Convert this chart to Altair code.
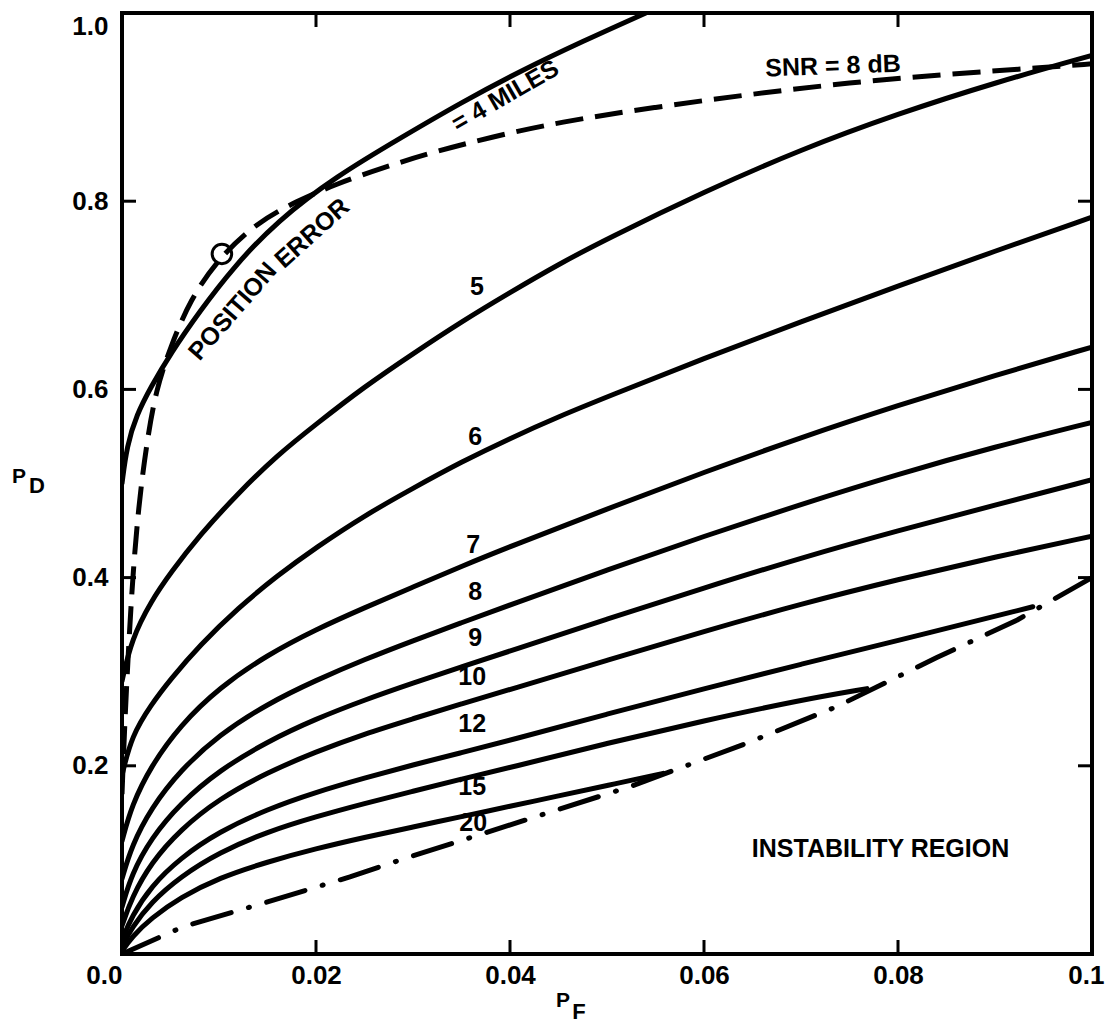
import altair as alt
import pandas as pd

# ---------------- data ----------------
x_tick_values = [0.0, 0.02, 0.04, 0.06, 0.08, 0.1]
y_tick_values = [0.2, 0.4, 0.6, 0.8, 1.0]
x_inner_ticks = [0.02, 0.04, 0.06, 0.08]
y_inner_ticks = [0.2, 0.4, 0.6, 0.8]

solid_names = ["4", "5", "6", "7", "8", "9", "10", "12", "15", "20"]

c4_x = [0, 0.0005, 0.0015, 0.003, 0.005, 0.008, 0.0115, 0.016, 0.022, 0.029, 0.035, 0.041, 0.0475, 0.054]
c4_y = [0.50, 0.54, 0.573, 0.603, 0.638, 0.683, 0.730, 0.779, 0.826, 0.869, 0.905, 0.938, 0.970, 1.0]

c5_x = [0, 0.001, 0.003, 0.005, 0.008, 0.012, 0.016, 0.02, 0.025, 0.03, 0.035, 0.04, 0.045, 0.05, 0.06, 0.07, 0.08, 0.09, 0.1]
c5_y = [0.29, 0.335, 0.375, 0.405, 0.445, 0.49, 0.53, 0.563, 0.603, 0.638, 0.672, 0.703, 0.733, 0.76, 0.81, 0.855, 0.893, 0.926, 0.955]

c6_x = [0, 0.001, 0.003, 0.005, 0.008, 0.012, 0.016, 0.02, 0.025, 0.03, 0.035, 0.04, 0.045, 0.05, 0.06, 0.07, 0.08, 0.09, 0.1]
c6_y = [0.19, 0.232, 0.265, 0.292, 0.328, 0.368, 0.402, 0.432, 0.466, 0.495, 0.523, 0.548, 0.571, 0.592, 0.633, 0.672, 0.71, 0.747, 0.783]

c7_x = [0, 0.001, 0.003, 0.006, 0.01, 0.015, 0.02, 0.025, 0.03, 0.035, 0.04, 0.05, 0.06, 0.07, 0.08, 0.09, 0.1]
c7_y = [0.12, 0.158, 0.2, 0.243, 0.283, 0.318, 0.345, 0.368, 0.39, 0.412, 0.433, 0.473, 0.512, 0.549, 0.583, 0.615, 0.645]

c8_x = [0, 0.001, 0.003, 0.006, 0.01, 0.015, 0.02, 0.025, 0.03, 0.035, 0.04, 0.05, 0.06, 0.07, 0.08, 0.09, 0.1]
c8_y = [0.08, 0.115, 0.155, 0.195, 0.233, 0.266, 0.291, 0.313, 0.333, 0.352, 0.371, 0.408, 0.444, 0.478, 0.51, 0.539, 0.565]

c9_x = [0, 0.001, 0.003, 0.006, 0.01, 0.015, 0.02, 0.025, 0.03, 0.035, 0.04, 0.05, 0.06, 0.07, 0.08, 0.09, 0.1]
c9_y = [0.05, 0.085, 0.123, 0.16, 0.195, 0.226, 0.25, 0.27, 0.288, 0.305, 0.322, 0.356, 0.389, 0.421, 0.45, 0.477, 0.504]

c10_x = [0, 0.001, 0.003, 0.006, 0.01, 0.015, 0.02, 0.025, 0.03, 0.035, 0.04, 0.05, 0.06, 0.07, 0.08, 0.09, 0.1]
c10_y = [0.03, 0.06, 0.097, 0.132, 0.165, 0.193, 0.215, 0.234, 0.25, 0.266, 0.281, 0.312, 0.343, 0.372, 0.398, 0.422, 0.444]

c12_x = [0, 0.001, 0.003, 0.006, 0.01, 0.015, 0.02, 0.025, 0.03, 0.035, 0.04, 0.05, 0.06, 0.07, 0.08, 0.0939]
c12_y = [0.015, 0.04, 0.072, 0.102, 0.13, 0.154, 0.172, 0.187, 0.201, 0.214, 0.227, 0.255, 0.282, 0.308, 0.333, 0.369]

c15_x = [0, 0.001, 0.003, 0.006, 0.01, 0.015, 0.02, 0.025, 0.03, 0.035, 0.04, 0.05, 0.06, 0.07, 0.0768]
c15_y = [0.008, 0.028, 0.055, 0.082, 0.108, 0.13, 0.146, 0.16, 0.173, 0.186, 0.198, 0.224, 0.248, 0.27, 0.282]

c20_x = [0, 0.001, 0.003, 0.006, 0.01, 0.015, 0.02, 0.025, 0.03, 0.035, 0.04, 0.045, 0.05, 0.0558]
c20_y = [0.003, 0.018, 0.038, 0.06, 0.081, 0.098, 0.112, 0.124, 0.135, 0.146, 0.157, 0.168, 0.179, 0.192]

snr_x = [0, 0.0003, 0.0007, 0.0011, 0.0017, 0.0025, 0.0035, 0.005, 0.007, 0.01, 0.014, 0.018, 0.022, 0.027, 0.032, 0.038, 0.045, 0.055, 0.065, 0.075, 0.085, 0.095, 0.1]
snr_y = [0.17, 0.25, 0.33, 0.40, 0.475, 0.54, 0.60, 0.645, 0.695, 0.74, 0.778, 0.80, 0.818, 0.836, 0.852, 0.868, 0.884, 0.90, 0.914, 0.926, 0.935, 0.942, 0.946]

inst_x = [0, 0.0063, 0.0149, 0.0235, 0.0287, 0.0424, 0.0524, 0.0644, 0.0737, 0.084, 0.0923, 0.1]
inst_y = [0, 0.029, 0.055, 0.082, 0.10, 0.145, 0.178, 0.224, 0.263, 0.315, 0.355, 0.40]

marker_x = [0.0103]
marker_y = [0.744]

num_labels = ["5", "6", "7", "8", "9", "10", "12", "15", "20"]
num_label_x = [0.0366, 0.0364, 0.0362, 0.0364, 0.0364, 0.0361, 0.0361, 0.0361, 0.0362]
num_label_y = [0.7085, 0.549, 0.435, 0.385, 0.336, 0.294, 0.244, 0.177, 0.139]

note_text = ["POSITION", "ERROR", "= 4 MILES", "SNR = 8 dB", "INSTABILITY REGION"]
note_x = [0.0114, 0.0196, 0.0395, 0.0733, 0.0782]
note_y = [0.683, 0.766, 0.912, 0.9436, 0.112]
note_angle = [311, 318, 330, 358, 0]

# ---------------- build tables ----------------
solid_xs = [c4_x, c5_x, c6_x, c7_x, c8_x, c9_x, c10_x, c12_x, c15_x, c20_x]
solid_ys = [c4_y, c5_y, c6_y, c7_y, c8_y, c9_y, c10_y, c12_y, c15_y, c20_y]
rows = []
for name, xs, ys in zip(solid_names, solid_xs, solid_ys):
    for i, (a, b) in enumerate(zip(xs, ys)):
        rows.append({"curve": name, "i": i, "pf": a, "pd": b})
solid_df = pd.DataFrame(rows)
snr_df = pd.DataFrame({"pf": snr_x, "pd": snr_y, "i": range(len(snr_x))})
inst_df = pd.DataFrame({"pf": inst_x, "pd": inst_y, "i": range(len(inst_x))})
marker_df = pd.DataFrame({"pf": marker_x, "pd": marker_y})
num_df = pd.DataFrame({"t": num_labels, "pf": num_label_x, "pd": num_label_y})
note_df = pd.DataFrame({"t": note_text, "pf": note_x, "pd": note_y, "a": note_angle})
xt_df = pd.DataFrame({"pf": x_inner_ticks})
yt_df = pd.DataFrame({"pd": y_inner_ticks})

W, H = 970, 941
FONT = "Liberation Sans"

xscale = alt.Scale(domain=[0, 0.1], nice=False, zero=False)
yscale = alt.Scale(domain=[0, 1.0], nice=False, zero=False)

x_axis = alt.Axis(
    values=x_tick_values, grid=False, ticks=False, domain=False, title=None,
    labelExpr="datum.value == 0 ? '0.0' : format(datum.value, '.2~f')",
    labelFont=FONT, labelFontSize=26, labelFontWeight="bold", labelColor="black",
    labelPadding=8, labelFlush=False, labelOverlap=False, labelBound=False,
    labelAlign={"condition": [
        {"test": "datum.value == 0", "value": "right"},
        {"test": "datum.value >= 0.099", "value": "right"},
    ], "value": "center"},
    labelOffset={"condition": {"test": "datum.value >= 0.099", "value": 12}, "value": 0},
)
y_axis = alt.Axis(
    values=y_tick_values, grid=False, ticks=False, domain=False, title=None,
    format=".1f", labelFont=FONT, labelFontSize=26, labelFontWeight="bold",
    labelColor="black", labelPadding=14, labelFlush=False, labelOverlap=False,
    labelBaseline={"condition": {"test": "datum.value == 1", "value": "top"}, "value": "middle"},
)

X = alt.X("pf:Q", scale=xscale, axis=x_axis)
Y = alt.Y("pd:Q", scale=yscale, axis=y_axis)

solid = alt.Chart(solid_df).mark_line(
    color="black", strokeWidth=5, interpolate="basis", clip=True, strokeCap="round"
).encode(x=X, y=Y, detail="curve:N", order="i:Q")

snr = alt.Chart(snr_df).mark_line(
    color="black", strokeWidth=5, interpolate="basis", strokeDash=[28, 12], clip=True
).encode(x=X, y=Y, order="i:Q")

inst = alt.Chart(inst_df).mark_line(
    color="black", strokeWidth=5, interpolate="linear", strokeDash=[40, 18, 1, 18],
    strokeCap="round", clip=True
).encode(x=X, y=Y, order="i:Q")

marker = alt.Chart(marker_df).mark_point(
    shape="circle", size=380, filled=False, color="black", strokeWidth=3, opacity=1
).encode(x=X, y=Y)

nums = alt.Chart(num_df).mark_text(
    font=FONT, fontSize=25, fontWeight="bold", color="black"
).encode(x=X, y=Y, text="t:N")

notes = alt.Chart(note_df).mark_text(
    font=FONT, fontSize=25, fontWeight="bold", color="black"
).encode(x=X, y=Y, text="t:N", angle=alt.Angle("a:Q", scale=None))

tick_len = 14
bottom_ticks = alt.Chart(xt_df).mark_rule(color="black", strokeWidth=3).encode(
    x=X, y=alt.value(H), y2=alt.value(H - tick_len))
top_ticks = alt.Chart(xt_df).mark_rule(color="black", strokeWidth=3).encode(
    x=X, y=alt.value(0), y2=alt.value(tick_len))
left_ticks = alt.Chart(yt_df).mark_rule(color="black", strokeWidth=3).encode(
    y=Y, x=alt.value(0), x2=alt.value(tick_len))
right_ticks = alt.Chart(yt_df).mark_rule(color="black", strokeWidth=3).encode(
    y=Y, x=alt.value(W), x2=alt.value(W - tick_len))

# axis titles P_D and P_F (subscripts as separate text pieces)
pd_p = alt.Chart(pd.DataFrame({"t": ["P"]})).mark_text(
    font=FONT, fontSize=21, fontWeight="bold", color="black").encode(
    text="t:N", x=alt.value(-103), y=alt.value(464))
pd_d = alt.Chart(pd.DataFrame({"t": ["D"]})).mark_text(
    font=FONT, fontSize=22, fontWeight="bold", color="black").encode(
    text="t:N", x=alt.value(-85), y=alt.value(473))
pf_p = alt.Chart(pd.DataFrame({"t": ["P"]})).mark_text(
    font=FONT, fontSize=21, fontWeight="bold", color="black").encode(
    text="t:N", x=alt.value(441), y=alt.value(988))
pf_f = alt.Chart(pd.DataFrame({"t": ["F"]})).mark_text(
    font=FONT, fontSize=22, fontWeight="bold", color="black").encode(
    text="t:N", x=alt.value(457), y=alt.value(999))

chart = alt.layer(
    solid, snr, inst, marker, nums, notes,
    bottom_ticks, top_ticks, left_ticks, right_ticks,
    pd_p, pd_d, pf_p, pf_f,
).properties(
    width=W, height=H,
    autosize=alt.AutoSizeParams(type="none"),
    padding={"left": 122, "top": 13, "right": 14, "bottom": 73},
    background="white",
).configure_view(
    stroke="black", strokeWidth=4
)

chart.save("out.html", embed_options={"renderer": "svg", "actions": False})
